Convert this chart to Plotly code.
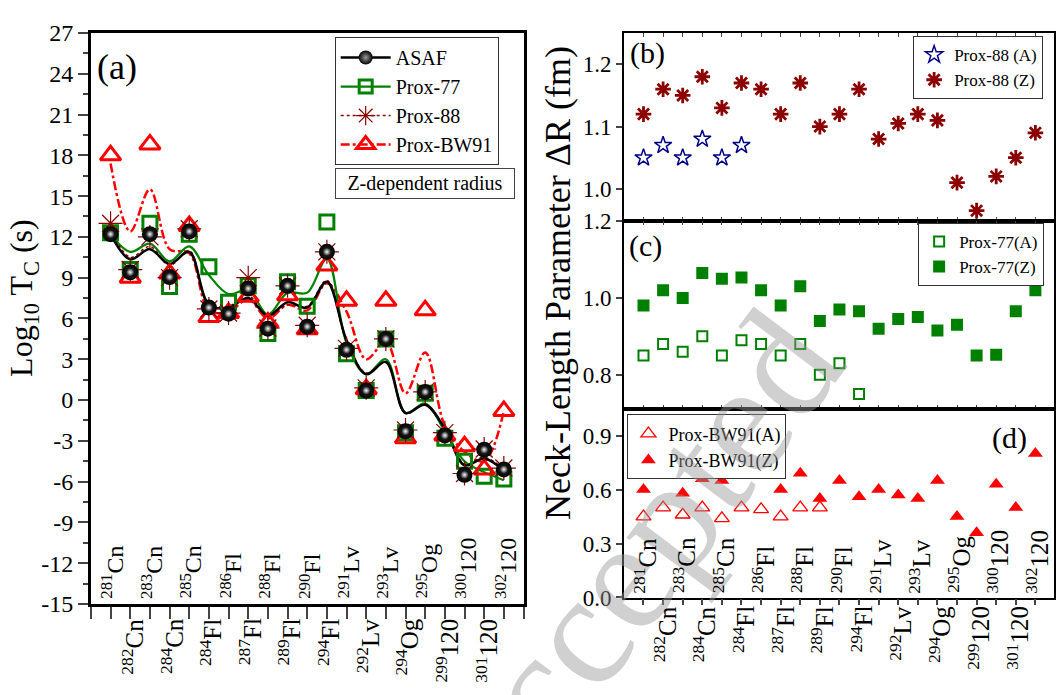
import plotly.graph_objects as go

# ---------------- data ----------------
pos = list(range(1, 22))
mass = [281, 282, 283, 284, 285, 284, 286, 287, 288, 289, 290, 294, 291, 292, 293, 294, 295, 299, 300, 301, 302]
elem = ['Cn', 'Cn', 'Cn', 'Cn', 'Cn', 'Fl', 'Fl', 'Fl', 'Fl', 'Fl', 'Fl', 'Fl', 'Lv', 'Lv', 'Lv', 'Og', 'Og', '120', '120', '120', '120']

# panel (a): log10 Tc (s), markers
asaf = [12.2, 9.4, 12.2, 9.05, 12.4, 6.8, 6.35, 8.2, 5.25, 8.4, 5.4, 10.9, 3.7, 0.7, 4.5, -2.3, 0.6, -2.6, -5.5, -3.65, -5.1]
prox77 = [12.3, 9.6, 13.0, 8.35, 12.2, 9.8, 7.2, 8.4, 4.9, 8.7, 6.9, 13.1, 3.4, 0.7, 4.5, -2.4, 0.5, -2.8, -4.5, -5.6, -5.8]
prox88 = [13.0, 9.6, 12.0, 9.0, 12.6, 6.7, 6.4, 9.0, 5.3, 8.4, 5.5, 10.9, 3.8, 0.9, 4.5, -2.2, 0.6, -2.4, -5.4, -3.6, -5.0]
bw91 = [18.0, 9.0, 18.8, 9.3, 12.8, 6.1, 6.4, 7.6, 5.7, 7.7, 5.2, 9.9, 7.3, 0.8, 7.3, -2.8, 6.6, -2.6, -3.4, -5.1, -0.8]

# panel (a): smooth fit curves read at each nucleus
asaf_fit = [12.2, 10.35, 11.1, 10.0, 10.9, 7.0, 6.8, 7.5, 6.2, 7.2, 6.8, 8.7, 4.4, 1.9, 2.8, -0.95, -0.35, -2.1, -4.8, -4.3, -5.2]
prox77_fit = [12.2, 10.9, 11.5, 10.2, 11.3, 9.2, 7.8, 8.1, 6.3, 7.9, 7.9, 10.4, 4.2, 1.9, 3.0, -0.95, -0.25, -2.3, -4.5, -5.3, -5.9]
prox88_fit = [12.6, 10.5, 11.3, 9.9, 11.0, 7.1, 6.9, 7.7, 6.2, 7.0, 6.9, 8.8, 4.3, 2.0, 2.8, -1.0, -0.3, -2.1, -4.7, -4.2, -5.1]
bw91_fit = [17.4, 12.4, 15.5, 11.1, 10.8, 6.6, 6.5, 7.4, 6.0, 7.0, 6.6, 8.6, 6.5, 3.0, 4.3, 0.5, 3.5, -1.9, -3.8, -4.5, -0.8]

# panel (b): Prox-88 neck-length parameter (fm)
p88_A = [1.05, 1.07, 1.05, 1.08, 1.05, 1.07]
p88_Z = [1.12, 1.16, 1.15, 1.18, 1.13, 1.17, 1.16, 1.12, 1.17, 1.10, 1.12, 1.16, 1.08, 1.105, 1.12, 1.11, 1.01, 0.965, 1.02, 1.05, 1.09]
# panel (c): Prox-77
p77_A = [0.85, 0.88, 0.86, 0.90, 0.85, 0.89, 0.88, 0.85, 0.88, 0.80, 0.83, 0.75]
p77_Z = [0.98, 1.02, 1.00, 1.065, 1.05, 1.053, 1.02, 0.98, 1.03, 0.94, 0.97, 0.965, 0.92, 0.945, 0.95, 0.915, 0.93, 0.85, 0.852, 0.965, 1.02]
# panel (d): Prox-BW91
bw_A = [0.45, 0.50, 0.46, 0.50, 0.44, 0.50, 0.49, 0.45, 0.50, 0.50]
bw_Z = [0.60, 0.68, 0.58, 0.66, 0.65, 0.70, 0.69, 0.60, 0.69, 0.55, 0.65, 0.56, 0.60, 0.57, 0.55, 0.65, 0.45, 0.36, 0.63, 0.50, 0.80]

yticks_a = list(range(-15, 28, 3))

# ---------------- styling ----------------
FONT = 'Liberation Serif, Times New Roman, serif'
W, H = 1056, 695
BLACK = '#000000'
GREEN = '#008000'
MAROON = '#8B0000'
RED = '#FF0000'
NAVY = '#00008B'

def px(v):
    return v / W

def py(v):
    return (H - v) / H

fig = go.Figure()

# ---- panel (a) curves ----
fig.add_trace(go.Scatter(x=pos, y=bw91_fit, mode='lines', line=dict(color=RED, width=2.5, dash='dashdot', shape='spline'),
                         showlegend=False, hoverinfo='skip', xaxis='x', yaxis='y'))
fig.add_trace(go.Scatter(x=pos, y=prox77_fit, mode='lines', line=dict(color=GREEN, width=2.2, shape='spline'),
                         showlegend=False, hoverinfo='skip', xaxis='x', yaxis='y'))
fig.add_trace(go.Scatter(x=pos, y=prox88_fit, mode='lines', line=dict(color=MAROON, width=1.5, dash='dot', shape='spline'),
                         showlegend=False, hoverinfo='skip', xaxis='x', yaxis='y'))
fig.add_trace(go.Scatter(x=pos, y=asaf_fit, mode='lines', line=dict(color=BLACK, width=2.5, shape='spline'),
                         showlegend=False, hoverinfo='skip', xaxis='x', yaxis='y'))

# ---- panel (a) markers ----
fig.add_trace(go.Scatter(x=pos, y=prox77, mode='markers', showlegend=False,
                         marker=dict(symbol='square-open', size=14, color=GREEN, line=dict(width=3, color=GREEN)),
                         xaxis='x', yaxis='y'))
fig.add_trace(go.Scatter(x=pos, y=bw91, mode='markers', showlegend=False,
                         marker=dict(symbol='triangle-up-open', size=18, color=RED, line=dict(width=3, color=RED)),
                         xaxis='x', yaxis='y'))
fig.add_trace(go.Scatter(x=pos, y=prox88, mode='markers', showlegend=False,
                         marker=dict(symbol='asterisk-open', size=20, color=MAROON, line=dict(width=1.2, color=MAROON)),
                         xaxis='x', yaxis='y'))
fig.add_trace(go.Scatter(x=pos, y=asaf, mode='markers', showlegend=False,
                         marker=dict(symbol='circle', size=16, color=BLACK, line=dict(width=0),
                                     gradient=dict(type='radial', color='#2e2e2e')),
                         xaxis='x', yaxis='y'))
# sphere highlight
fig.add_trace(go.Scatter(x=pos, y=asaf, mode='markers', showlegend=False, hoverinfo='skip',
                         marker=dict(symbol='circle', size=8, color='rgba(255,255,255,0)', line=dict(width=0),
                                     gradient=dict(type='radial', color='#f4f4f4')),
                         xaxis='x', yaxis='y'))

# ---- legend entries for panel (a) ----
fig.add_trace(go.Scatter(x=[None], y=[None], mode='lines+markers', name='ASAF', legend='legend',
                         line=dict(color=BLACK, width=2.5),
                         marker=dict(symbol='circle', size=14, color=BLACK, gradient=dict(type='radial', color='#9a9a9a')),
                         xaxis='x', yaxis='y'))
fig.add_trace(go.Scatter(x=[None], y=[None], mode='lines+markers', name='Prox-77', legend='legend',
                         line=dict(color=GREEN, width=2.2),
                         marker=dict(symbol='square-open', size=13, color=GREEN, line=dict(width=3, color=GREEN)),
                         xaxis='x', yaxis='y'))
fig.add_trace(go.Scatter(x=[None], y=[None], mode='lines+markers', name='Prox-88', legend='legend',
                         line=dict(color=MAROON, width=1.5, dash='dot'),
                         marker=dict(symbol='asterisk-open', size=16, color=MAROON, line=dict(width=1.2, color=MAROON)),
                         xaxis='x', yaxis='y'))
fig.add_trace(go.Scatter(x=[None], y=[None], mode='lines+markers', name='Prox-BW91', legend='legend',
                         line=dict(color=RED, width=2.5, dash='dashdot'),
                         marker=dict(symbol='triangle-up-open', size=16, color=RED, line=dict(width=3, color=RED)),
                         xaxis='x', yaxis='y'))

# ---- panel (b) ----
fig.add_trace(go.Scatter(x=pos[:len(p88_A)], y=p88_A, mode='markers', name='Prox-88 (A)', legend='legend2',
                         marker=dict(symbol='star-open', size=13, color=NAVY, line=dict(width=1.5, color=NAVY)),
                         xaxis='x2', yaxis='y2'))
fig.add_trace(go.Scatter(x=pos, y=p88_Z, mode='markers', name='Prox-88 (Z)', legend='legend2', cliponaxis=False,
                         marker=dict(symbol='asterisk-open', size=13, color=MAROON, line=dict(width=2.8, color=MAROON)),
                         xaxis='x2', yaxis='y2'))
# ---- panel (c) ----
fig.add_trace(go.Scatter(x=pos[:len(p77_A)], y=p77_A, mode='markers', name='Prox-77(A)', legend='legend3',
                         marker=dict(symbol='square-open', size=10, color=GREEN, line=dict(width=2, color=GREEN)),
                         xaxis='x3', yaxis='y3'))
fig.add_trace(go.Scatter(x=pos, y=p77_Z, mode='markers', name='Prox-77(Z)', legend='legend3',
                         marker=dict(symbol='square', size=12, color=GREEN, line=dict(width=0)),
                         xaxis='x3', yaxis='y3'))
# ---- panel (d) ----
fig.add_trace(go.Scatter(x=pos[:len(bw_A)], y=bw_A, mode='markers', name='Prox-BW91(A)', legend='legend4',
                         marker=dict(symbol='triangle-up-open', size=13, color=RED, line=dict(width=1.3, color=RED)),
                         xaxis='x4', yaxis='y4'))
fig.add_trace(go.Scatter(x=pos, y=bw_Z, mode='markers', name='Prox-BW91(Z)', legend='legend4',
                         marker=dict(symbol='triangle-up', size=13, color=RED, line=dict(width=0)),
                         xaxis='x4', yaxis='y4'))

# ---------------- axes ----------------
tickfont = dict(family=FONT, size=24, color=BLACK)
tickfont_r = dict(family=FONT, size=23, color=BLACK)

xa_dom = [px(91), px(524)]
xr_dom = [px(624.5), px(1055)]

fig.update_layout(
    width=W, height=H, margin=dict(l=0, r=0, t=0, b=0),
    paper_bgcolor='white', plot_bgcolor='white',
    font=dict(family=FONT, color=BLACK),
    xaxis=dict(domain=xa_dom, range=[0, 22], tickvals=list(range(0, 23)), ticks='outside', ticklen=12, tickwidth=2,
               showticklabels=False, showline=True, linewidth=2.5, linecolor=BLACK, mirror=True,
               showgrid=False, zeroline=False, anchor='y'),
    yaxis=dict(domain=[py(614), py(20.7)], range=[-15.001, 27.001], tickvals=yticks_a,
               ticktext=[str(v) for v in yticks_a],
               ticks='outside', ticklen=10, tickwidth=2, tickfont=tickfont,
               minor=dict(tickvals=[v + 1.5 for v in yticks_a[:-1]], ticks='outside', ticklen=5, tickwidth=2),
               showline=True, linewidth=2.5, linecolor=BLACK, mirror=True,
               showgrid=False, zeroline=False, anchor='x'),
    xaxis2=dict(domain=xr_dom, range=[0, 21.95], tickvals=pos, ticks='inside', ticklen=4, tickwidth=1.2,
                showticklabels=False, showline=True, linewidth=1.5, linecolor=BLACK, mirror='ticks',
                showgrid=False, zeroline=False, anchor='y2'),
    yaxis2=dict(domain=[py(216), py(20.7)], range=[0.9485, 1.2504], tickvals=[1.0, 1.1, 1.2],
                ticktext=['1.0', '1.1', '1.2'], ticks='outside', ticklen=6, tickwidth=1.5, tickfont=tickfont_r,
                showline=True, linewidth=1.5, linecolor=BLACK, mirror=True,
                showgrid=False, zeroline=False, anchor='x2'),
    xaxis3=dict(domain=xr_dom, range=[0, 21.95], tickvals=pos, ticks='inside', ticklen=4, tickwidth=1.2,
                showticklabels=False, showline=True, linewidth=1.5, linecolor=BLACK, mirror='ticks',
                showgrid=False, zeroline=False, anchor='y3'),
    yaxis3=dict(domain=[py(411), py(216)], range=[0.712, 1.2002], tickvals=[0.8, 1.0, 1.2],
                ticktext=['0.8', '1.0', '1.2'], ticks='outside', ticklen=6, tickwidth=1.5, tickfont=tickfont_r,
                showline=True, linewidth=1.5, linecolor=BLACK, mirror=True,
                showgrid=False, zeroline=False, anchor='x3'),
    xaxis4=dict(domain=xr_dom, range=[0, 21.95], tickvals=pos, ticks='outside', ticklen=6, tickwidth=1.5,
                showticklabels=False, showline=True, linewidth=1.5, linecolor=BLACK, mirror=True,
                showgrid=False, zeroline=False, anchor='y4'),
    yaxis4=dict(domain=[py(607.3), py(411)], range=[-0.0005, 1.05], tickvals=[0.0, 0.3, 0.6, 0.9],
                ticktext=['0.0', '0.3', '0.6', '0.9'], ticks='outside', ticklen=6, tickwidth=1.5, tickfont=tickfont_r,
                showline=True, linewidth=1.5, linecolor=BLACK, mirror=True,
                showgrid=False, zeroline=False, anchor='x4'),
    legend=dict(x=px(335), y=py(25), xanchor='left', yanchor='top', bgcolor='white', bordercolor='#333333',
                borderwidth=1, font=dict(family=FONT, size=20, color=BLACK), itemwidth=50, tracegroupgap=0),
    legend2=dict(x=px(914), y=py(24), xanchor='left', yanchor='top', bgcolor='white', bordercolor='#333333',
                 borderwidth=1, font=dict(family=FONT, size=17, color=BLACK)),
    legend3=dict(x=px(919), y=py(218), xanchor='left', yanchor='top', bgcolor='white', bordercolor='#333333',
                 borderwidth=1, font=dict(family=FONT, size=17, color=BLACK)),
    legend4=dict(x=px(628), y=py(417), xanchor='left', yanchor='top', bgcolor='white', bordercolor='#333333',
                 borderwidth=1, font=dict(family=FONT, size=18, color=BLACK)),
)

ann = []
# watermark (drawn first so other texts sit above it)
ann.append(dict(text='Accepted', x=px(625), y=py(582), xref='paper', yref='paper', showarrow=False,
                xanchor='center', yanchor='middle',
                textangle=-53, font=dict(family=FONT, size=160, color='rgba(150,150,150,0.45)')))

# nucleus labels
for i, (m, e) in enumerate(zip(mass, elem)):
    lab = f'<sup>{m}</sup>{e}'
    if i % 2 == 0:
        ann.append(dict(text=lab, x=pos[i], y=-14.75, xref='x', yref='y', xanchor='center', yanchor='bottom',
                        textangle=-90, showarrow=False, xshift=2, font=dict(family=FONT, size=24, color=BLACK)))
        ann.append(dict(text=lab, x=pos[i], y=0.012, xref='x4', yref='y4', xanchor='center', yanchor='bottom',
                        textangle=-90, showarrow=False, xshift=2, font=dict(family=FONT, size=25, color=BLACK)))
    else:
        ann.append(dict(text=lab, x=pos[i], y=py(627), xref='x', yref='paper', xanchor='center', yanchor='top',
                        textangle=-90, showarrow=False, xshift=2, font=dict(family=FONT, size=25, color=BLACK)))
        ann.append(dict(text=lab, x=pos[i], y=py(614), xref='x4', yref='paper', xanchor='center', yanchor='top',
                        textangle=-90, showarrow=False, xshift=2, font=dict(family=FONT, size=25, color=BLACK)))

def label(text, cx, cy, size, **kw):
    d = dict(text=text, x=px(cx), y=py(cy), xref='paper', yref='paper', xanchor='center', yanchor='middle',
             showarrow=False, font=dict(family=FONT, size=size, color=BLACK))
    d.update(kw)
    return d

# axis titles
ann.append(label('Log<sub>10</sub> T<sub>C</sub> (s)', 24, 296, 32, textangle=-90))
ann.append(label('Neck-Length Parameter \u0394R (fm)', 558, 280, 36, textangle=-90))
# panel labels
ann.append(label('(a)', 117, 56, 36))
ann.append(label('(b)', 648, 42, 30))
ann.append(label('(c)', 646, 242, 30))
ann.append(label('(d)', 1010, 442, 30))
# Z-dependent radius box
ann.append(label('Z-dependent radius', 425, 177.5, 20, width=176, height=27, bordercolor='#444444',
                 borderwidth=1, bgcolor='white'))

fig.update_layout(annotations=ann)

fig.write_html('out.html')
